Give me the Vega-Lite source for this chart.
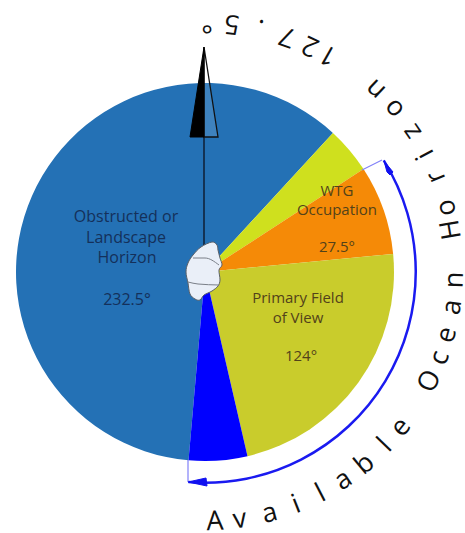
{"$schema":"https://vega.github.io/schema/vega-lite/v6.json","width":410,"height":522,"autosize":{"type":"none"},"padding":{"left":0,"top":11,"right":55,"bottom":0},"background":"white","view":{"stroke":null},
"datasets":{
"sectors":[{"name":"Obstructed","start":185,"end":402.6},{"name":"Yellow","start":42.6,"end":57},{"name":"WTG","start":57,"end":84.5},{"name":"Primary","start":84.5,"end":167},{"name":"Blue","start":167,"end":185}],
"letters":[{"c":"A","b":177.7},{"c":"v","b":172},{"c":"a","b":165},{"c":"i","b":158.6},{"c":"l","b":152.4},{"c":"a","b":146.4},{"c":"b","b":140.3},{"c":"l","b":133.9},{"c":"e","b":128.4},{"c":"O","b":115.9},{"c":"c","b":110.1},{"c":"e","b":104.6},{"c":"a","b":98.1},{"c":"n","b":91.8},{"c":"H","b":80.2},{"c":"o","b":75.1},{"c":"r","b":67.6},{"c":"i","b":61.9},{"c":"z","b":55.9},{"c":"o","b":49.2},{"c":"n","b":43},{"c":"1","b":29.6},{"c":"2","b":25},{"c":"7","b":19.3},{"c":".","b":12.7},{"c":"5","b":6.2},{"c":"°","b":0.5}],
"labels":[{"t":"Obstructed or","x":126,"y":217,"g":"a"},{"t":"Landscape","x":126,"y":238,"g":"a"},{"t":"Horizon","x":127,"y":258,"g":"a"},{"t":"232.5°","x":127,"y":300,"g":"a"},{"t":"WTG","x":337,"y":191,"g":"b"},{"t":"Occupation","x":337,"y":210,"g":"b"},{"t":"27.5°","x":337,"y":247,"g":"b"},{"t":"Primary Field","x":298,"y":298,"g":"b"},{"t":"of View","x":298,"y":318,"g":"b"},{"t":"124°","x":301,"y":356,"g":"b"}],
"blob":[{"x":212,"y":242,"i":0},{"x":217,"y":245,"i":1},{"x":218,"y":250,"i":2},{"x":220,"y":258,"i":3},{"x":222,"y":265,"i":4},{"x":219,"y":270,"i":5},{"x":220,"y":280,"i":6},{"x":218,"y":286,"i":7},{"x":212,"y":291,"i":8},{"x":204,"y":295,"i":9},{"x":200,"y":300,"i":10},{"x":195,"y":299,"i":11},{"x":190,"y":294,"i":12},{"x":188,"y":283,"i":13},{"x":186,"y":272,"i":14},{"x":188,"y":263,"i":15},{"x":193,"y":255,"i":16},{"x":201,"y":247,"i":17}],
"blobLines":[{"g":"u","x":193,"y":258,"i":0},{"g":"u","x":205,"y":258,"i":1},{"g":"u","x":219,"y":265,"i":2},{"g":"l","x":188,"y":282,"i":0},{"g":"l","x":198,"y":284,"i":1},{"g":"l","x":219,"y":285,"i":2}],
"ticks":[{"g":"t","x":362,"y":170,"i":0},{"g":"t","x":382,"y":160,"i":1},{"g":"b","x":188,"y":460,"i":0},{"g":"b","x":188,"y":482,"i":1}],
"heads":[{"g":"t","x":384,"y":161,"i":0},{"g":"t","x":393,"y":172,"i":1},{"g":"t","x":390,"y":175,"i":2},{"g":"t","x":387,"y":172,"i":3},{"g":"b","x":188,"y":482,"i":0},{"g":"b","x":206,"y":478,"i":1},{"g":"b","x":207,"y":486,"i":2}],
"needle":[{"x":204,"y":137,"i":0},{"x":204,"y":245,"i":1}],
"triBlack":[{"x":204,"y":47,"i":0},{"x":190,"y":137,"i":1},{"x":204,"y":137,"i":2}],
"triWhite":[{"x":204,"y":47,"i":0},{"x":218,"y":137,"i":1},{"x":204,"y":137,"i":2}],
"band":[{"start":58,"end":184.5}]
},
"layer":[
{"data":{"name":"sectors"},"mark":{"type":"arc","outerRadius":189},"encoding":{"theta":{"field":"start","type":"quantitative","scale":{"domain":[0,360],"range":[0,6.28319]}},"theta2":{"field":"end"},"color":{"field":"name","type":"nominal","legend":null,"scale":{"domain":["Obstructed","Yellow","WTG","Primary","Blue"],"range":["#2471b5","#cfe01e","#f58a07","#c9cc2c","#0000ff"]}}}},
{"data":{"name":"band"},"mark":{"type":"arc","innerRadius":209.5,"outerRadius":212,"fill":"#1a1af0"},"encoding":{"theta":{"field":"start","type":"quantitative"},"theta2":{"field":"end"}}},
{"data":{"name":"ticks"},"mark":{"type":"line","stroke":"#8080f8","strokeWidth":1.2},"encoding":{"x":{"field":"x","type":"quantitative","axis":null,"scale":{"domain":[0,410],"nice":false,"zero":false}},"y":{"field":"y","type":"quantitative","axis":null,"scale":{"domain":[533,11],"nice":false,"zero":false}},"order":{"field":"i"},"detail":{"field":"g"}}},
{"data":{"name":"heads"},"mark":{"type":"line","interpolate":"linear-closed","fill":"#1010f0","stroke":"#1010f0","strokeWidth":1},"encoding":{"x":{"field":"x","type":"quantitative","axis":null},"y":{"field":"y","type":"quantitative","axis":null},"order":{"field":"i"},"detail":{"field":"g"}}},
{"data":{"name":"needle"},"mark":{"type":"line","stroke":"#10243c","strokeWidth":1.6},"encoding":{"x":{"field":"x","type":"quantitative","axis":null},"y":{"field":"y","type":"quantitative","axis":null},"order":{"field":"i"}}},
{"data":{"name":"triWhite"},"mark":{"type":"line","interpolate":"linear-closed","fill":"#ffffff","fillOpacity":0.12,"stroke":"#111111","strokeWidth":1.3},"encoding":{"x":{"field":"x","type":"quantitative","axis":null},"y":{"field":"y","type":"quantitative","axis":null},"order":{"field":"i"}}},
{"data":{"name":"triBlack"},"mark":{"type":"line","interpolate":"linear-closed","fill":"#000000","stroke":"#000000","strokeWidth":1},"encoding":{"x":{"field":"x","type":"quantitative","axis":null},"y":{"field":"y","type":"quantitative","axis":null},"order":{"field":"i"}}},
{"data":{"name":"blob"},"mark":{"type":"line","interpolate":"cardinal-closed","fill":"#eaeff8","stroke":"#5a6068","strokeWidth":1},"encoding":{"x":{"field":"x","type":"quantitative","axis":null},"y":{"field":"y","type":"quantitative","axis":null},"order":{"field":"i"}}},
{"data":{"name":"blobLines"},"mark":{"type":"line","interpolate":"monotone","stroke":"#7a7f88","strokeWidth":1},"encoding":{"x":{"field":"x","type":"quantitative","axis":null},"y":{"field":"y","type":"quantitative","axis":null},"order":{"field":"i"},"detail":{"field":"g"}}},
{"data":{"name":"labels"},"transform":[{"filter":"datum.g==='a'"}],"mark":{"type":"text","font":"Open Sans","fontSize":16,"fill":"#14305a","align":"center","baseline":"middle"},"encoding":{"x":{"field":"x","type":"quantitative","axis":null},"y":{"field":"y","type":"quantitative","axis":null},"text":{"field":"t"}}},
{"data":{"name":"labels"},"transform":[{"filter":"datum.g==='b'"}],"mark":{"type":"text","font":"Open Sans","fontSize":15,"fill":"#52421a","align":"center","baseline":"middle"},"encoding":{"x":{"field":"x","type":"quantitative","axis":null},"y":{"field":"y","type":"quantitative","axis":null},"text":{"field":"t"}}},
{"data":{"name":"letters"},"mark":{"type":"text","font":"Open Sans","fontSize":27,"radius":250,"fill":"#111111","align":"center","baseline":"middle"},"encoding":{"theta":{"field":"b","type":"quantitative"},"angle":{"field":"b","type":"quantitative","scale":{"domain":[0,360],"range":[-180,180]}},"text":{"field":"c"}}}
]}
